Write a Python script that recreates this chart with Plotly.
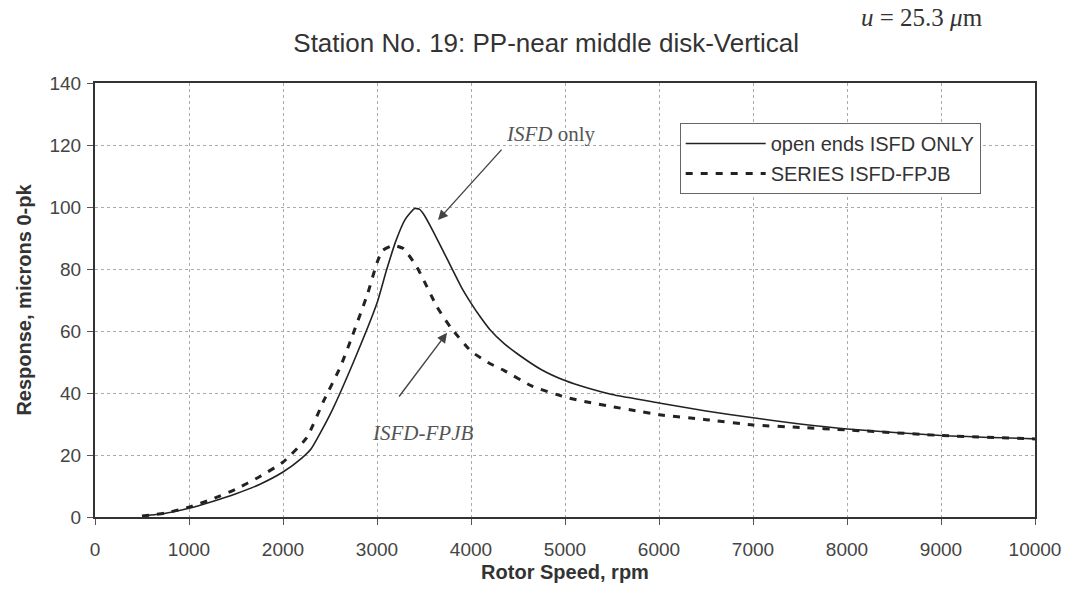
import plotly.graph_objects as go

# Data
rpm_isfd = [500, 750, 1000, 1250, 1500, 1750, 2000, 2200, 2300, 2500, 2750, 3000, 3100, 3200, 3300, 3400,
            3450, 3500, 3600, 3750, 3900, 4000, 4100, 4200, 4350, 4500, 4750, 5000, 5250, 5500, 6000,
            6500, 7000, 7500, 8000, 9000, 10000]
resp_isfd = [0.3, 1.2, 2.8, 5, 7.5, 10.5, 14.5, 19, 22, 33, 50, 69, 79.5, 89, 96, 99.5,
             99.3, 97.5, 92, 83, 74, 69, 64.5, 60.5, 56, 52.5, 47.5, 44, 41.5, 39.5, 36.8,
             34.2, 32, 30, 28.4, 26.3, 25.2]

rpm_series = [500, 750, 1000, 1250, 1500, 1750, 2000, 2250, 2435, 2610, 2720, 2900, 3000, 3060, 3175,
              3280, 3425, 3640, 3780, 4000, 4200, 4350, 4650, 5000, 5250, 5500, 5750, 6000, 6500, 7000,
              7500, 8000, 9000, 10000]
resp_series = [0.3, 1.3, 3.2, 5.8, 9, 13, 17.7, 25.5, 37.6, 48.4, 57, 72, 82, 86, 87.6,
               86.6, 80.6, 67.7, 61.3, 53.5, 49.5, 47.3, 42.2, 38.7, 37, 35.6, 34.3, 33, 31.4, 29.7,
               28.9, 28.1, 26.3, 25.2]

x_ticks = list(range(0, 10001, 1000))
x_tick_text = [str(v) for v in x_ticks]
y_ticks = list(range(0, 141, 20))

fig = go.Figure()
fig.add_trace(go.Scatter(x=rpm_isfd, y=resp_isfd, mode="lines", name="open ends ISFD ONLY", legendgroup="a",
                         line=dict(color="#222", width=1.6, shape="spline", smoothing=0.5)))
fig.add_trace(go.Scatter(x=rpm_series, y=resp_series, mode="lines", name="SERIES ISFD-FPJB", legendgroup="b",
                         line=dict(color="#222", width=3, dash="7px,8px", shape="spline", smoothing=0.5)))

sans = "Liberation Sans, Arial"
serif = "Liberation Serif, Times New Roman"

axis_common = dict(showline=True, linecolor="#333", linewidth=2, mirror=True, automargin=False,
                   showgrid=True, gridcolor="#aaa", griddash="3px,3px", gridwidth=1,
                   ticks="outside", ticklen=6, tickcolor="#555", zeroline=False,
                   tickfont=dict(family=sans, size=19, color="#444"))

fig.update_xaxes(range=[0, 10000], tickvals=x_ticks, ticktext=x_tick_text, ticklabelstandoff=8, **axis_common,
                 title=dict(text="<b>Rotor Speed, rpm</b>", font=dict(family=sans, size=20, color="#333"), standoff=6))
fig.update_yaxes(range=[0, 140], tickvals=y_ticks, ticklabelstandoff=2, **axis_common,
                 title=dict(text="<b>Response, microns 0-pk</b>", font=dict(family=sans, size=20, color="#333"), standoff=12))

fig.update_layout(
    width=1072, height=589,
    margin=dict(l=95, r=37, t=83, b=72),
    paper_bgcolor="white", plot_bgcolor="white",
    title=dict(text="Station No. 19: PP-near middle disk-Vertical", xref="paper", x=0.48, xanchor="center",
               y=0.927, yanchor="middle", font=dict(family=sans, size=26, color="#333")),
    legend=dict(x=0.622, y=0.908, xanchor="left", yanchor="top", bgcolor="white", traceorder="grouped",
                bordercolor="#666", borderwidth=1, font=dict(family=sans, size=20, color="#333"),
                itemwidth=80, tracegroupgap=1),
    showlegend=True,
)

fig.add_annotation(xref="paper", yref="paper", x=0.88, y=1.15, xanchor="center", yanchor="middle",
                   text="<i>u</i> = 25.3 <i>μ</i>m", showarrow=False,
                   font=dict(family=serif, size=25, color="#333"))

fig.add_annotation(x=4851, y=123.5, xref="x", yref="y", text="<i>ISFD</i> only", showarrow=False,
                   font=dict(family=serif, size=21, color="#555"))
fig.add_annotation(x=3649, y=95.8, ax=4340, ay=119, xref="x", yref="y", axref="x", ayref="y",
                   text="", showarrow=True, arrowhead=2, arrowsize=1.4, arrowwidth=1.4, arrowcolor="#444")

fig.add_annotation(x=3479, y=27.1, xref="x", yref="y", text="<i>ISFD-FPJB</i>", showarrow=False,
                   font=dict(family=serif, size=21, color="#555"))
fig.add_annotation(x=3745, y=59.4, ax=3223, ay=38.4, xref="x", yref="y", axref="x", ayref="y",
                   text="", showarrow=True, arrowhead=2, arrowsize=1.4, arrowwidth=1.4, arrowcolor="#444")

fig.write_html("out.html")
